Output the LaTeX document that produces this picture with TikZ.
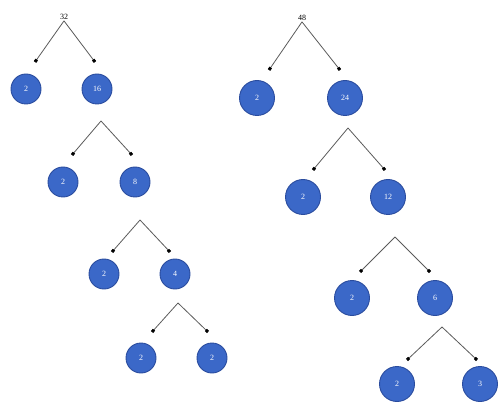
\documentclass[tikz,border=0pt]{standalone}
\usepackage{fontspec}
\setmainfont{Liberation Serif}
\usetikzlibrary{arrows.meta}
\definecolor{nodeblue}{HTML}{3B68C8}
\definecolor{nodeedge}{HTML}{2A4C9E}
\definecolor{linegray}{HTML}{5A5A5A}
\tikzset{
  leafA/.style={circle,fill=nodeblue,draw=nodeedge,line width=0.9pt,minimum size=30pt,inner sep=0pt,text=white,font=\fontsize{8}{9}\selectfont},
  leafB/.style={leafA,minimum size=35pt},
  rootlbl/.style={inner sep=1pt,font=\fontsize{8}{9}\selectfont},
  conn/.style={draw=linegray,line width=0.8pt,-{Square[length=3pt,width=3pt,black]}},
}
\begin{document}
\begin{tikzpicture}[x=1pt,y=-1pt]
\useasboundingbox (0,0) rectangle (500,403);
% ---------- left tree ----------
\node[rootlbl] (lr) at (64,17) {32};
\coordinate (ld1a) at (35,62); \coordinate (ld1b) at (95,62);
\node[leafA] (l1a) at (26,89) {2};
\node[leafA] (l1b) at (97,89) {16};
\draw[conn] (lr.south) -- (ld1a);
\draw[conn] (lr.south) -- (ld1b);

\coordinate (la2) at (101,121);
\coordinate (ld2a) at (72,155); \coordinate (ld2b) at (132,155);
\node[leafA] (l2a) at (63,182) {2};
\node[leafA] (l2b) at (135,182) {8};
\draw[conn] (la2) -- (ld2a);
\draw[conn] (la2) -- (ld2b);

\coordinate (la3) at (140,220);
\coordinate (ld3a) at (112,252); \coordinate (ld3b) at (170,252);
\node[leafA] (l3a) at (104,274) {2};
\node[leafA] (l3b) at (175,274) {4};
\draw[conn] (la3) -- (ld3a);
\draw[conn] (la3) -- (ld3b);

\coordinate (la4) at (178,303);
\coordinate (ld4a) at (152,332); \coordinate (ld4b) at (208,332);
\node[leafA] (l4a) at (141,358) {2};
\node[leafA] (l4b) at (212,358) {2};
\draw[conn] (la4) -- (ld4a);
\draw[conn] (la4) -- (ld4b);

% ---------- right tree ----------
\node[rootlbl] (rr) at (302,18) {48};
\coordinate (rd1a) at (269,70); \coordinate (rd1b) at (340,70);
\node[leafB] (r1a) at (257,98) {2};
\node[leafB] (r1b) at (345,98) {24};
\draw[conn] (rr.south) -- (rd1a);
\draw[conn] (rr.south) -- (rd1b);

\coordinate (ra2) at (348,128);
\coordinate (rd2a) at (313,170); \coordinate (rd2b) at (385,170);
\node[leafB] (r2a) at (303,197) {2};
\node[leafB] (r2b) at (388,197) {12};
\draw[conn] (ra2) -- (rd2a);
\draw[conn] (ra2) -- (rd2b);

\coordinate (ra3) at (395,237);
\coordinate (rd3a) at (360,272); \coordinate (rd3b) at (430,272);
\node[leafB] (r3a) at (352,298) {2};
\node[leafB] (r3b) at (435,298) {6};
\draw[conn] (ra3) -- (rd3a);
\draw[conn] (ra3) -- (rd3b);

\coordinate (ra4) at (442,327);
\coordinate (rd4a) at (407,360); \coordinate (rd4b) at (477,360);
\node[leafB] (r4a) at (397,384) {2};
\node[leafB] (r4b) at (480,384) {3};
\draw[conn] (ra4) -- (rd4a);
\draw[conn] (ra4) -- (rd4b);
\end{tikzpicture}
\end{document}
